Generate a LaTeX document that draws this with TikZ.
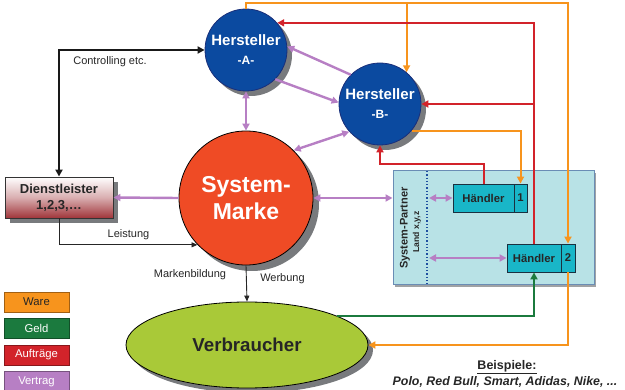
\documentclass[tikz,border=0pt]{standalone}
\usepackage{fontspec}
\setmainfont{Liberation Sans}
\usetikzlibrary{arrows.meta,shapes.geometric}
\definecolor{hblue}{HTML}{0B4AA0}
\definecolor{hblueD}{HTML}{1A2F7A}
\definecolor{smred}{HTML}{EF4B25}
\definecolor{vgreen}{HTML}{A9C938}
\definecolor{dred}{HTML}{A0353A}
\definecolor{spfill}{HTML}{B8E2E6}
\definecolor{spdraw}{HTML}{6A8DB5}
\definecolor{hfill}{HTML}{19B6C8}
\definecolor{hdark}{HTML}{1A3040}
\definecolor{cware}{HTML}{F7941D}
\definecolor{cgeld}{HTML}{1B7A3E}
\definecolor{cauf}{HTML}{D2232A}
\definecolor{cver}{HTML}{B77FC4}
\definecolor{shadowgrey}{RGB}{120,122,125}
\definecolor{dotblue}{HTML}{1F4FA0}
\begin{document}
\begin{tikzpicture}[x=1pt,y=-1pt,
  herst/.style={circle,minimum size=82pt,inner sep=0pt,draw=hblueD,line width=0.8pt,
    fill=hblue,text=white,align=center,
    font=\bfseries\fontsize{15}{19}\selectfont},
  tip/.style={-{Triangle[length=7pt,width=7pt]}},
  tips/.style={{Triangle[length=7pt,width=7pt]}-{Triangle[length=7pt,width=7pt]}},
  ware/.style={draw=cware,line width=2pt,tip},
  auftrag/.style={draw=cauf,line width=2pt,tip},
  geld/.style={draw=cgeld,line width=2pt,tip},
  vertrag/.style={draw=cver,line width=2.4pt},
  lbl/.style={font=\fontsize{11}{13}\selectfont,text=black!85},
  haendler/.style={rectangle,draw=hdark,line width=0.9pt,fill=hfill,inner sep=0pt,
    minimum height=28pt,font=\bfseries\fontsize{11.3}{13}\selectfont,text=black!85},
  leg/.style={rectangle,draw=#1!65!black,line width=0.8pt,fill=#1,minimum width=65pt,
    minimum height=20pt,inner sep=0pt,font=\fontsize{11.3}{12}\selectfont}
]
\useasboundingbox (0,0) rectangle (625,390);

% shadows
\fill[shadowgrey!70] (395,173) rectangle (596,287);
\fill[shadowgrey] (251,55) circle (41);
\fill[shadowgrey] (385,109) circle (41);
\fill[shadowgrey] (252,204) circle (67);
\fill[shadowgrey] (252,350) ellipse [x radius=121, y radius=43];
\fill[shadowgrey] (10,182) rectangle (118,223);

% System-Partner box
\node[rectangle,draw=spdraw,line width=1pt,fill=spfill,minimum width=201pt,minimum height=114pt,
  inner sep=0pt] (SP) at (493.5,228) {};
\coordinate (dl1) at (427,171);
\coordinate (dl2) at (427,285);
\draw[dotblue,line width=1.3pt,dotted] (dl1) -- (dl2);
\node[rotate=90,font=\bfseries\fontsize{11}{13}\selectfont,text=black!85] (spt) at (405,228) {System-Partner};
\node[rotate=90,font=\bfseries\fontsize{8.6}{10}\selectfont,text=black!85] (spl) at (417,232) {Land x,y,z};

% Haendler
\node[haendler,minimum width=61pt] (h1) at (483.5,198) {Händler};
\node[haendler,minimum width=13pt] (n1) at (520.5,198) {1};
\node[haendler,minimum width=54pt] (h2) at (534,258) {Händler};
\node[haendler,minimum width=14pt] (n2) at (568,258) {2};

% main nodes
\node[herst] (A) at (246,50) {Hersteller\\\fontsize{12}{19}\selectfont -A-};
\node[herst] (B) at (380,104) {Hersteller\\\fontsize{12}{19}\selectfont -B-};
\node[circle,minimum size=134pt,inner sep=0pt,draw=black,line width=0.8pt,fill=smred,
  text=white,align=center,font=\bfseries\fontsize{23}{27}\selectfont] (SM) at (246,198) {System-\\Marke};
\node[ellipse,minimum width=242pt,minimum height=86pt,inner sep=0pt,draw=black,line width=0.8pt,
  fill=vgreen,font=\bfseries\fontsize{18.7}{22}\selectfont,text=black!85] (V) at (247,345) {Verbraucher};
\node[rectangle,minimum width=108pt,minimum height=41pt,inner sep=0pt,draw=black!80,line width=0.9pt,
  top color=white,bottom color=dred,middle color=white!60!dred,align=center,
  font=\bfseries\fontsize{13}{16}\selectfont,text=black!85] (D) at (59,197.5) {Dienstleister\\1,2,3,…};

% legend
\node[leg=cware,text=black!85] (lw) at (36.5,302) {Ware};
\node[leg=cgeld,text=white] (lg) at (36.5,328.5) {Geld};
\node[leg=cauf,text=white] (la) at (36.5,355) {Aufträge};
\node[leg=cver,text=white] (lv) at (36.5,381.5) {Vertrag};

% black connectors
\draw[black!90,line width=2pt,{Triangle[length=7pt,width=7pt]}-{Triangle[length=7pt,width=7pt]}] (D.north) |- (A.west);
\node[lbl] (tc) at (110,62) {Controlling etc.};
\draw[black!85,line width=0.9pt,-{Triangle[length=6pt,width=5pt]}] (D.south) |- (SM.224);
\node[lbl] (tl) at (128.5,235) {Leistung};
\draw[black!85,line width=0.9pt,-{Triangle[length=6pt,width=5pt]}] (SM.south) -- (V.north);
\node[lbl] (tm) at (190,275) {Markenbildung};
\node[lbl] (tw) at (282.5,279) {Werbung};

% purple (Vertrag)
\draw[vertrag,tips] (A.south) -- (SM.north);
\draw[vertrag,tip] (B.135) -- (A.5);
\draw[vertrag,tip] (A.-45) -- (B.178);
\draw[vertrag,tips] (SM.45) -- (B.222);
\draw[vertrag,tip] (SM.west) -- (D.east);
\draw[vertrag,tips] (SM.east) -- (SM.east -| SP.west);
\draw[vertrag,tips] ([xshift=2pt]h1.west -| dl1) -- (h1.west);
\draw[vertrag,tips] ([xshift=2pt]h2.west -| dl1) -- (h2.west);

% orange (Ware)
\coordinate (otop) at (0,3);
\draw[ware] (A.north) -- (A.north |- otop) -| (n2.north);
\draw[ware] (B.50 |- otop) -- (B.50);
\draw[ware] (B.-40) -| (n1.north);
\draw[ware] (n2.south) |- (V.east);

% red (Auftraege)
\draw[auftrag] (h2.north) |- (A.41);
\draw[auftrag] (B.east -| h2.north) -- (B.east);
\draw[auftrag] (h1.north) -- ++(0,-20) -| (B.south);

% green (Geld)
\draw[geld] (V.18) -| (h2.south);

% examples
\node[font=\bfseries\fontsize{12.5}{14}\selectfont,text=black!85] (bsp) at (507,367) {\underline{Beispiele:}};
\node[font=\bfseries\itshape\fontsize{12.4}{14}\selectfont,text=black!85] (bsl) at (505,382) {Polo, Red Bull, Smart, Adidas, Nike, ...};
\end{tikzpicture}
\end{document}
